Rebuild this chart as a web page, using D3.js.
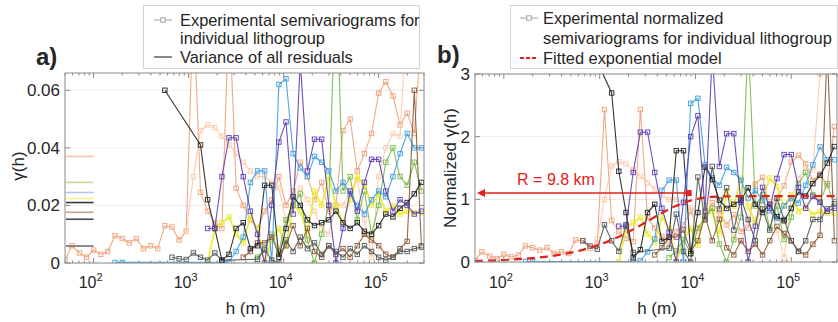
<!DOCTYPE html>
<html>
<head>
<meta charset="utf-8">
<script src="https://d3js.org/d3.v7.min.js"></script>
<style>
  body { margin: 0; background: #fff; }
  text { font-family: "Liberation Sans", Arial, sans-serif; fill: #262626; }
</style>
</head>
<body>
<div class="vis"></div>

<script>
  // lag distances h (m), log-spaced bins
  var lags = [50, 59, 71, 84, 100, 119, 141, 168, 200, 237,
    282, 335, 398, 473, 562, 668, 794, 944, 1122, 1334,
    1585, 1884, 2239, 2661, 3162, 3758, 4467, 5309, 6310, 7499,
    8913, 10593, 12589, 14962, 17783, 21135, 25119, 29854, 35481, 42170,
    50119, 59566, 70795, 84140, 100000, 118850, 141254, 167880, 199526, 237137,
    281838];

  // experimental semivariograms per lithogroup (null = empty bin)
  var salmon = [0.001, 0.006, 0.0035, 0.002, 0.0045, 0.003, 0.004, 0.0095, 0.0085, 0.007,
    0.0085, 0.005, 0.006, 0.005, 0.013, 0.0125, 0.008, 0.011, 0.09, 0.0245,
    0.018, 0.014, 0.012, 0.09, 0.026, 0.02, 0.015, 0.012, 0.018, 0.022,
    0.03, 0.02, 0.025, 0.035, 0.03, 0.022, 0.028, 0.018, 0.02, 0.046,
    0.05, 0.032, 0.038, 0.045, 0.059, 0.063, 0.058, 0.048, 0.052, 0.045,
    0.08];
  var peach = [null, null, null, null, null, null, null, null, null, null,
    null, null, null, null, null, null, null, 0.011, 0.03, 0.046,
    0.048, 0.047, 0.044, 0.041, 0.038, 0.035, 0.032, 0.03, 0.03, 0.028,
    0.026, 0.015, 0.02, 0.026, 0.022, 0.018, 0.012, 0.01, 0.02, 0.02,
    0.025, 0.029, 0.015, 0.002, 0.03, 0.04, 0.045, 0.044, 0.09, null,
    null];
  var yellow = [null, null, null, null, null, null, null, null, null, null,
    null, null, null, null, null, null, null, null, null, null,
    0.0, 0.012, 0.014, 0.016, 0.01, 0.007, 0.016, 0.012, 0.0, 0.008,
    0.012, 0.006, 0.02, 0.018, 0.01, 0.025, 0.02, 0.03, 0.02, 0.014,
    0.022, 0.03, 0.027, 0.02, 0.024, 0.018, 0.02, 0.017, 0.018, 0.0175,
    0.0175];
  var green = [null, null, null, null, null, null, null, null, null, null,
    null, null, null, null, null, null, null, null, null, null,
    null, null, null, null, null, null, null, 0.002, 0.005, 0.01,
    0.004, 0.015, 0.02, 0.024, 0.008, 0.0, 0.01, 0.02, 0.1, 0.025,
    0.03, 0.015, 0.025, 0.01, 0.02, 0.035, 0.04, 0.03, 0.027, 0.035,
    0.025];
  var blue = [null, null, null, null, null, null, null, 0.0002, 0.0002, null,
    null, null, null, null, null, null, null, null, null, null,
    null, null, 0.0003, 0.0005, 0.004, 0.009, 0.028, 0.032, 0.032, 0.0,
    0.062, 0.064, 0.038, 0.033, 0.03, 0.037, 0.035, 0.032, 0.025, 0.028,
    0.024, 0.02, 0.017, 0.022, 0.025, 0.023, 0.03, 0.038, 0.045, 0.04,
    0.04];
  var brown = [null, null, null, null, null, null, null, null, null, null,
    null, null, null, null, null, null, null, null, null, null,
    null, null, null, null, null, 0.002, 0.004, 0.007, 0.007, 0.009,
    0.003, 0.006, 0.013, 0.006, 0.012, 0.004, 0.002, 0.006, 0.003, 0.005,
    0.002, 0.006, 0.01, 0.008, 0.006, 0.003, 0.002, 0.005, 0.0075, 0.06,
    0.006];
  var gray = [null, null, null, null, null, null, null, null, null, null,
    null, null, null, null, null, 0.002, 0.0015, 0.0012, 0.0035, 0.002,
    0.001, 0.0035, 0.0009, null, null, null, null, 0.0013, 0.0045, 0.001,
    0.0, 0.008, 0.004, 0.009, 0.005, 0.007, 0.003, 0.006, 0.004, 0.002,
    0.005, 0.003, 0.006, 0.004, 0.002, 0.001, 0.002, 0.004, 0.004, 0.005,
    0.0055];
  var black = [null, null, null, null, null, null, null, null, null, null,
    null, null, null, null, 0.06, null, null, null, null, 0.041,
    0.022, 0.012, 0.001, 0.003, 0.012, 0.014, 0.005, 0.006, 0.027, 0.027,
    0.002, 0.012, 0.023, 0.02, 0.015, 0.013, 0.014, 0.015, 0.018, 0.014,
    0.012, 0.014, 0.011, 0.01, 0.013, 0.017, 0.016, 0.019, 0.021, 0.024,
    0.028];
  var purple = [null, null, null, null, null, null, null, null, null, null,
    null, null, null, null, null, null, null, null, null, null,
    0.012, 0.012, 0.03, 0.0435, 0.0435, 0.03, 0.018, 0.01, 0.0, 0.02,
    0.042, 0.049, 0.017, 0.07, 0.032, 0.043, 0.043, 0.02, 0.0, 0.012,
    0.025, 0.018, 0.028, 0.036, 0.036, 0.025, 0.018, 0.022, 0.02, 0.017,
    0.018];

  var groupValues = [salmon, peach, yellow, green, blue, brown, gray, black, purple];
  // variance of residuals per lithogroup (used for normalisation)
  var variances = [0.037, 0.030, 0.0224, 0.028, 0.0245, 0.0176, 0.0059, 0.0152, 0.021];

  // fitted exponential model
  var modelRange = 9800;
  var modelSill = 1.05;
  var arrowLevel = 1.1;

  var yTicksA = [0, 0.02, 0.04, 0.06];
  var yTicksB = [0, 1, 2, 3];
  var xTicks = [1e2, 1e3, 1e4, 1e5];

  // styles
  var lineColors = ['#ee9a70', '#fbc6a2', '#ecea30', '#76b944', '#3d9ce0', '#8a5836', '#4f5757', '#1e1e1e', '#5a3cb4'];
  var varColors = ['#f6c3a3', null, '#f4ee90', '#c2dc8c', '#a6cbf0', '#c4a48c', '#6f6f6f', '#4a4a4a', '#3a3a3a'];

  var W = 838, H = 322;
  var svg = d3.select('.vis').append('svg')
    .attr('width', W).attr('height', H);

  var hDomain = [50, 3e5];
  var xa = d3.scaleLog().domain(hDomain).range([65, 424]);
  var ya = d3.scaleLinear().domain([0, 0.066]).range([263, 73]);
  var xb = d3.scaleLog().domain(hDomain).range([475, 837]);
  var yb = d3.scaleLinear().domain([0, 3]).range([262, 74]);

  function drawFrame(x, y, yTicks, id) {
    var g = svg.append('g');
    var x0 = x.range()[0], x1 = x.range()[1], y0 = y.range()[0], y1 = y.range()[1];
    svg.append('clipPath').attr('id', id)
      .append('rect').attr('x', x0).attr('y', y1).attr('width', x1 - x0).attr('height', y0 - y1);
    // grid
    g.selectAll('.grid').data(yTicks).enter().append('line')
      .attr('x1', x0).attr('x2', x1)
      .attr('y1', d => y(d)).attr('y2', d => y(d))
      .attr('stroke', '#ececec');
    return g;
  }

  function drawAxes(x, y, yTicks, yFmt) {
    var g = svg.append('g');
    var x0 = x.range()[0], x1 = x.range()[1], y0 = y.range()[0], y1 = y.range()[1];
    var minor = x.ticks().filter(d => xTicks.indexOf(d) < 0);
    [y0, y1].forEach(function (yy, i) {
      var dir = i === 0 ? -1 : 1;
      g.selectAll(null).data(xTicks).enter().append('line')
        .attr('x1', d => x(d)).attr('x2', d => x(d))
        .attr('y1', yy).attr('y2', yy + dir * 5)
        .attr('stroke', '#8a8a8a');
      g.selectAll(null).data(minor).enter().append('line')
        .attr('x1', d => x(d)).attr('x2', d => x(d))
        .attr('y1', yy).attr('y2', yy + dir * 2.5)
        .attr('stroke', '#8a8a8a');
    });
    g.selectAll(null).data(yTicks).enter().append('line')
      .attr('x1', x0).attr('x2', x0 + 5)
      .attr('y1', d => y(d)).attr('y2', d => y(d))
      .attr('stroke', '#8a8a8a');
    g.selectAll(null).data(yTicks).enter().append('line')
      .attr('x1', x1).attr('x2', x1 - 5)
      .attr('y1', d => y(d)).attr('y2', d => y(d))
      .attr('stroke', '#8a8a8a');
    g.append('rect')
      .attr('x', x0).attr('y', y1).attr('width', x1 - x0).attr('height', y0 - y1)
      .attr('fill', 'none').attr('stroke', '#8a8a8a');

    // tick labels
    g.selectAll(null).data(yTicks).enter().append('text')
      .attr('x', x0 - 5).attr('y', d => y(d) + 6)
      .attr('text-anchor', 'end').style('font-size', '17px')
      .text(yFmt);
    var xl = g.selectAll(null).data(xTicks).enter().append('text')
      .attr('x', d => x(d) - 3).attr('y', 288)
      .attr('text-anchor', 'middle').style('font-size', '16px');
    xl.append('tspan').text('10');
    xl.append('tspan').attr('dy', -7).style('font-size', '11px')
      .text(d => Math.round(Math.log10(d)));
    g.append('text')
      .attr('x', (x0 + x1) / 2 + 1).attr('y', 314)
      .attr('text-anchor', 'middle').style('font-size', '17px')
      .text('h (m)');
  }

  function drawSeries(x, y, clipId, normalise) {
    var g = svg.append('g').attr('clip-path', 'url(#' + clipId + ')');
    groupValues.forEach(function (vals, i) {
      var pts = lags.map((h, k) => [h, vals[k]])
        .filter(p => p[1] !== null)
        .map(p => [p[0], normalise ? p[1] / variances[i] : p[1]]);
      var line = d3.line().x(p => x(p[0])).y(p => y(p[1]));
      var op = i < 2 ? 0.85 : 0.9;
      g.append('path')
        .attr('d', line(pts))
        .attr('fill', 'none')
        .attr('stroke', lineColors[i])
        .attr('stroke-width', i === 2 ? 1.8 : 1.1)
        .attr('opacity', op);
      g.selectAll(null).data(pts).enter().append('rect')
        .attr('x', p => x(p[0]) - 2.2).attr('y', p => y(p[1]) - 2.2)
        .attr('width', 4.4).attr('height', 4.4)
        .attr('fill', 'none')
        .attr('stroke', lineColors[i])
        .attr('stroke-width', 1)
        .attr('opacity', op);
    });
    return g;
  }

  // ---------- panel a ----------
  drawFrame(xa, ya, yTicksA, 'clipA');
  drawSeries(xa, ya, 'clipA', false);
  // variance lines
  svg.append('g').selectAll('line')
    .data(variances.map((v, i) => [v, varColors[i]]).filter(d => d[1]))
    .enter().append('line')
    .attr('x1', xa(50) + 1).attr('x2', xa(100))
    .attr('y1', d => ya(d[0])).attr('y2', d => ya(d[0]))
    .attr('stroke', d => d[1]).attr('stroke-width', 1.6);
  drawAxes(xa, ya, yTicksA, d => d === 0 ? '0' : d3.format('.2f')(d));

  svg.append('text')
    .attr('transform', 'translate(24,166) rotate(-90)')
    .attr('text-anchor', 'middle').style('font-size', '17px')
    .text('\u03B3(h)');

  // ---------- panel b ----------
  drawFrame(xb, yb, yTicksB, 'clipB');
  drawSeries(xb, yb, 'clipB', true);

  var modelLine = d3.line().x(h => xb(h)).y(h => yb(modelSill * (1 - Math.exp(-3 * h / modelRange))));
  svg.append('path')
    .attr('clip-path', 'url(#clipB)')
    .attr('d', modelLine(lags.concat([hDomain[1]])))
    .attr('fill', 'none').attr('stroke', '#e3201b')
    .attr('stroke-width', 2.2).attr('stroke-dasharray', '8,5');

  var ay = yb(arrowLevel);
  svg.append('line')
    .attr('x1', xb(50) + 6).attr('x2', xb(modelRange) - 6)
    .attr('y1', ay).attr('y2', ay)
    .attr('stroke', '#e3201b').attr('stroke-width', 1.6);
  svg.append('path')
    .attr('d', 'M' + (xb(50) + 2) + ',' + ay + 'l8,-4l0,8z')
    .attr('fill', '#e3201b');
  svg.append('rect')
    .attr('x', xb(modelRange) - 9).attr('y', ay - 3)
    .attr('width', 6).attr('height', 6).attr('fill', '#e3201b');
  svg.append('text')
    .attr('x', xb(50) + 81).attr('y', ay - 8)
    .attr('text-anchor', 'middle').style('font-size', '16px')
    .style('fill', '#e3201b')
    .text('R = 9.8 km');

  drawAxes(xb, yb, yTicksB, d => String(d));
  svg.append('text')
    .attr('transform', 'translate(456,168) rotate(-90)')
    .attr('text-anchor', 'middle').style('font-size', '17px')
    .text('Normalized \u03B3(h)');

  // ---------- panel labels ----------
  svg.append('text').attr('x', 36).attr('y', 65)
    .style('font-size', '24px').style('font-weight', 'bold').text('a)');
  svg.append('text').attr('x', 437).attr('y', 63)
    .style('font-size', '24px').style('font-weight', 'bold').text('b)');

  // ---------- legends ----------
  function legendBox(x, y, w, h) {
    svg.append('rect').attr('x', x).attr('y', y).attr('width', w).attr('height', h)
      .attr('fill', '#fff').attr('stroke', '#d4d4d4');
  }
  function markerSymbol(x, y) {
    svg.append('line').attr('x1', x).attr('x2', x + 18).attr('y1', y).attr('y2', y)
      .attr('stroke', '#a0a0a0');
    svg.append('rect').attr('x', x + 6.8).attr('y', y - 2.2).attr('width', 4.4).attr('height', 4.4)
      .attr('fill', '#fff').attr('stroke', '#a0a0a0');
  }
  function legendText(x, y, t) {
    svg.append('text').attr('x', x).attr('y', y).style('font-size', '16.4px').text(t);
  }

  legendBox(143.5, 5.5, 276, 63);
  markerSymbol(154, 20);
  legendText(180, 26, 'Experimental semivariograms for');
  legendText(180, 44, 'individual lithogroup');
  svg.append('line').attr('x1', 154).attr('x2', 172).attr('y1', 57).attr('y2', 57)
    .attr('stroke', '#555').attr('stroke-width', 1.4);
  legendText(180, 63, 'Variance of all residuals');

  legendBox(510.5, 5.5, 327, 63);
  markerSymbol(520, 18);
  legendText(543, 24, 'Experimental normalized');
  legendText(543, 44, 'semivariograms for individual lithogroup');
  svg.append('line').attr('x1', 520).attr('x2', 538).attr('y1', 58).attr('y2', 58)
    .attr('stroke', '#e3201b').attr('stroke-width', 2).attr('stroke-dasharray', '4,2');
  legendText(543, 64, 'Fitted exponential model');
</script>
</body>
</html>
